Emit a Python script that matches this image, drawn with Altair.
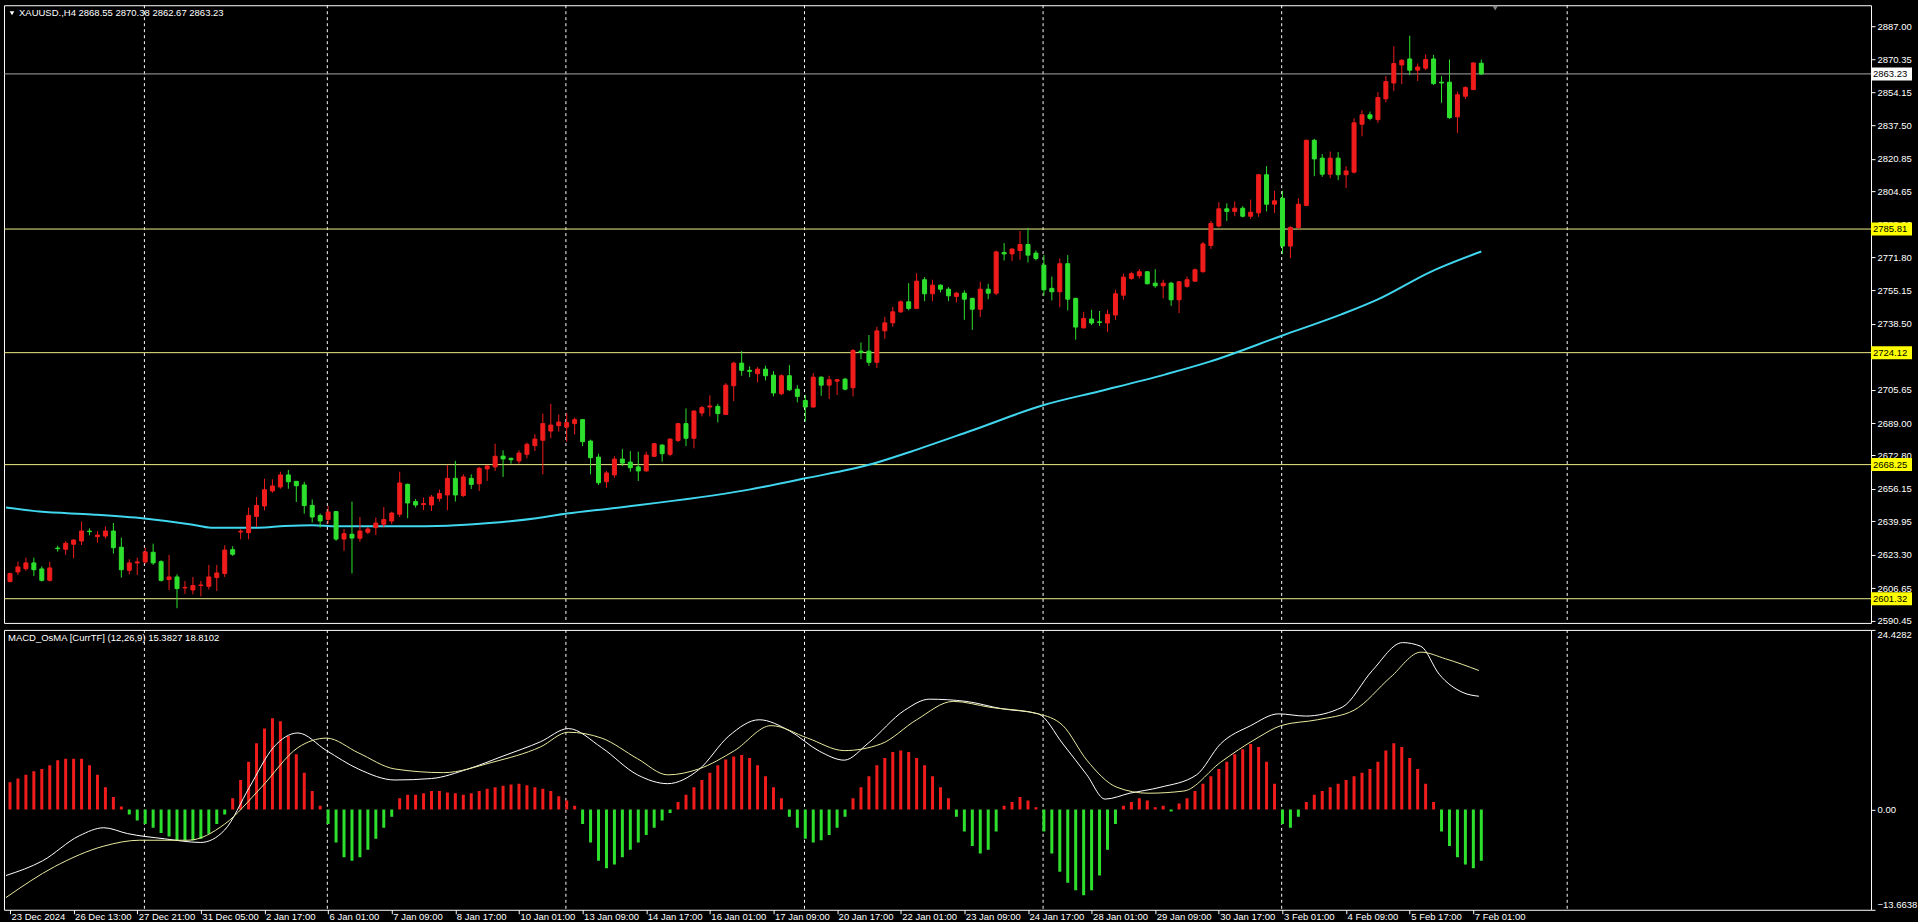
import altair as alt
import pandas as pd

# ---------------- data ----------------
opens = [2609.9, 2614.7, 2616.3, 2619.2, 2616.2, 2610.5, 2626.6, 2626.0, 2628.5, 2630.1,
         2635.1, 2632.3, 2632.6, 2635.1, 2627.0, 2615.5, 2619.2, 2619.7, 2624.5, 2619.8,
         2610.9, 2612.2, 2606.7, 2605.7, 2607.9, 2607.5, 2611.9, 2613.9, 2625.8, 2634.6,
         2634.3, 2642.4, 2647.6, 2655.1, 2657.1, 2663.1, 2659.9, 2658.1, 2647.9, 2642.8,
         2640.9, 2644.8, 2631.1, 2633.5, 2631.5, 2634.5, 2636.8, 2638.5, 2640.1, 2643.5,
         2658.4, 2649.8, 2648.3, 2648.1, 2651.4, 2653.1, 2661.4, 2652.8, 2661.4, 2658.7,
         2666.1, 2667.1, 2672.5, 2671.4, 2670.1, 2673.4, 2677.7, 2680.4, 2685.0, 2687.7,
         2687.0, 2688.7, 2690.7, 2680.0, 2672.0, 2659.7, 2663.1, 2671.0, 2669.5, 2667.1,
         2665.1, 2672.4, 2678.0, 2673.4, 2680.3, 2688.7, 2681.4, 2694.0, 2697.0, 2697.3,
         2693.3, 2707.6, 2718.9, 2715.3, 2713.6, 2715.9, 2712.9, 2703.6, 2712.6, 2705.9,
         2700.3, 2697.0, 2711.9, 2707.9, 2709.9, 2710.9, 2706.6, 2724.9, 2724.9, 2719.3,
         2735.0, 2739.0, 2744.5, 2749.5, 2746.2, 2760.5, 2753.5, 2757.8, 2755.8, 2752.2,
         2753.8, 2751.2, 2745.8, 2755.8, 2753.8, 2774.1, 2773.4, 2775.1, 2778.1, 2773.8,
         2767.8, 2756.2, 2754.5, 2768.5, 2751.2, 2736.5, 2740.9, 2739.5, 2738.9, 2742.9,
         2752.8, 2761.1, 2762.5, 2764.5, 2758.8, 2757.5, 2758.8, 2750.5, 2757.2, 2759.8,
         2764.5, 2777.6, 2787.3, 2795.9, 2794.6, 2796.2, 2792.2, 2793.9, 2812.9, 2798.2,
         2801.2, 2777.3, 2786.6, 2797.6, 2830.1, 2821.2, 2813.2, 2821.2, 2812.9, 2814.2,
         2838.1, 2842.8, 2840.4, 2850.8, 2858.7, 2867.7, 2870.7, 2865.1, 2866.1, 2870.7,
         2859.1, 2859.1, 2841.8, 2852.1, 2855.4, 2868.55]
highs = [2614.3, 2619.8, 2621.8, 2621.8, 2617.5, 2619.8, 2627.8, 2630.1, 2631.1, 2639.8,
         2636.4, 2635.1, 2637.4, 2639.1, 2631.8, 2621.0, 2621.8, 2626.8, 2628.8, 2620.5,
         2623.2, 2613.5, 2610.2, 2612.2, 2610.2, 2618.2, 2618.2, 2628.0, 2627.5, 2636.0,
         2646.8, 2652.1, 2661.2, 2660.9, 2664.7, 2665.6, 2660.1, 2659.7, 2650.9, 2643.8,
         2647.6, 2645.1, 2636.1, 2649.8, 2642.1, 2637.1, 2641.8, 2647.1, 2644.8, 2664.7,
         2658.8, 2651.1, 2651.8, 2653.1, 2655.8, 2668.1, 2670.1, 2663.4, 2663.4, 2667.1,
         2668.1, 2678.7, 2675.4, 2671.7, 2675.4, 2679.2, 2683.4, 2693.7, 2698.6, 2693.3,
         2694.0, 2691.7, 2691.0, 2680.7, 2673.7, 2665.1, 2672.4, 2676.0, 2675.0, 2674.7,
         2674.7, 2679.1, 2678.4, 2681.4, 2689.0, 2696.3, 2695.3, 2697.6, 2702.8, 2698.6,
         2708.9, 2719.6, 2724.9, 2717.3, 2716.9, 2717.6, 2714.9, 2713.3, 2717.9, 2707.9,
         2703.0, 2713.9, 2712.3, 2712.6, 2710.9, 2711.6, 2725.9, 2729.2, 2732.9, 2737.0,
         2742.0, 2747.0, 2750.2, 2758.8, 2763.8, 2761.8, 2760.5, 2758.2, 2756.8, 2754.5,
         2755.2, 2751.5, 2759.5, 2758.5, 2775.1, 2778.8, 2776.4, 2784.8, 2786.4, 2775.1,
         2772.8, 2762.1, 2771.1, 2772.8, 2751.5, 2744.5, 2745.5, 2744.9, 2745.5, 2755.5,
         2763.5, 2764.5, 2765.8, 2764.8, 2765.8, 2760.5, 2759.5, 2759.8, 2762.1, 2766.1,
         2779.4, 2789.9, 2799.2, 2798.6, 2799.6, 2797.2, 2800.5, 2813.2, 2817.2, 2804.9,
         2804.9, 2787.2, 2801.2, 2830.5, 2830.8, 2823.2, 2824.5, 2824.2, 2817.2, 2841.1,
         2845.1, 2844.4, 2854.1, 2862.1, 2877.0, 2870.7, 2882.3, 2868.4, 2873.0, 2872.7,
         2862.1, 2870.4, 2854.4, 2857.1, 2869.0, 2870.38]
lows = [2609.4, 2613.2, 2615.2, 2612.7, 2609.9, 2609.9, 2624.8, 2623.2, 2621.5, 2628.1,
        2633.0, 2629.3, 2631.3, 2623.8, 2611.9, 2613.5, 2613.2, 2618.8, 2618.2, 2609.9,
        2605.7, 2596.6, 2603.7, 2603.5, 2602.5, 2605.9, 2605.2, 2612.2, 2622.7, 2631.0,
        2631.0, 2637.1, 2645.4, 2654.2, 2656.2, 2656.2, 2649.6, 2643.8, 2639.3, 2636.8,
        2638.8, 2630.2, 2625.2, 2613.9, 2629.8, 2633.5, 2633.1, 2636.8, 2638.5, 2642.1,
        2641.5, 2646.8, 2645.5, 2645.1, 2649.8, 2645.5, 2649.8, 2652.1, 2656.1, 2655.1,
        2660.1, 2665.1, 2662.1, 2668.7, 2668.7, 2671.4, 2675.0, 2663.4, 2681.4, 2684.7,
        2679.7, 2683.3, 2677.5, 2663.4, 2658.1, 2656.7, 2661.7, 2667.5, 2664.7, 2660.1,
        2664.7, 2672.0, 2669.7, 2672.4, 2679.4, 2677.5, 2676.4, 2692.3, 2692.3, 2689.3,
        2693.0, 2700.0, 2712.6, 2711.9, 2709.3, 2710.3, 2702.3, 2703.0, 2705.0, 2699.3,
        2689.7, 2696.6, 2702.6, 2701.0, 2703.0, 2705.3, 2702.3, 2720.9, 2717.6, 2716.5,
        2731.0, 2737.0, 2743.9, 2745.2, 2745.8, 2749.8, 2749.8, 2754.2, 2749.8, 2749.2,
        2740.5, 2735.5, 2741.9, 2750.8, 2752.8, 2770.1, 2769.8, 2770.5, 2769.1, 2770.1,
        2752.5, 2750.2, 2746.8, 2745.2, 2730.6, 2736.2, 2737.9, 2737.5, 2734.5, 2740.5,
        2750.5, 2760.5, 2761.1, 2758.2, 2756.5, 2751.2, 2747.5, 2743.9, 2756.5, 2759.5,
        2764.1, 2775.9, 2786.6, 2789.9, 2792.2, 2791.6, 2790.9, 2791.9, 2794.6, 2793.9,
        2773.3, 2771.3, 2785.6, 2797.2, 2812.2, 2811.9, 2811.2, 2810.2, 2806.2, 2813.5,
        2832.1, 2840.1, 2838.8, 2849.1, 2854.7, 2858.1, 2862.7, 2859.7, 2865.1, 2857.7,
        2848.8, 2840.8, 2833.8, 2850.8, 2855.1, 2862.67]
closes = [2613.9, 2617.2, 2619.2, 2615.8, 2610.5, 2616.7, 2626.3, 2629.0, 2630.6, 2635.1,
          2634.8, 2633.1, 2635.1, 2626.8, 2615.8, 2619.2, 2619.7, 2624.7, 2619.2, 2610.5,
          2612.2, 2606.4, 2607.0, 2607.9, 2608.2, 2612.2, 2614.2, 2625.6, 2623.5, 2635.0,
          2642.9, 2647.9, 2655.7, 2657.6, 2663.1, 2659.7, 2657.7, 2647.8, 2642.1, 2640.1,
          2644.6, 2631.1, 2633.8, 2631.6, 2635.1, 2636.1, 2639.1, 2640.8, 2644.1, 2659.1,
          2649.1, 2648.1, 2648.8, 2652.1, 2653.8, 2661.4, 2653.1, 2662.1, 2658.4, 2666.4,
          2667.6, 2672.4, 2671.1, 2670.7, 2674.0, 2678.4, 2681.0, 2688.7, 2688.0, 2689.5,
          2689.2, 2690.7, 2679.7, 2671.7, 2659.2, 2664.1, 2671.0, 2669.0, 2666.7, 2665.1,
          2673.0, 2678.7, 2673.7, 2681.0, 2688.7, 2681.4, 2695.0, 2696.7, 2697.5, 2693.7,
          2707.9, 2718.9, 2715.3, 2714.8, 2715.9, 2712.6, 2704.0, 2712.6, 2705.6, 2702.3,
          2697.0, 2711.9, 2707.9, 2710.6, 2710.6, 2705.9, 2725.2, 2724.2, 2719.3, 2735.0,
          2739.0, 2744.5, 2749.5, 2746.2, 2759.8, 2753.5, 2757.8, 2755.8, 2752.5, 2753.8,
          2750.8, 2745.8, 2755.8, 2753.8, 2774.4, 2773.4, 2775.8, 2778.1, 2772.8, 2771.1,
          2755.5, 2754.5, 2768.5, 2750.8, 2736.9, 2741.2, 2738.9, 2739.2, 2743.2, 2753.5,
          2761.8, 2763.5, 2764.5, 2758.5, 2757.5, 2758.8, 2750.5, 2759.5, 2760.5, 2765.5,
          2778.4, 2788.6, 2795.9, 2794.6, 2796.2, 2792.2, 2794.2, 2812.9, 2798.2, 2799.9,
          2777.3, 2786.6, 2798.2, 2830.1, 2820.8, 2813.2, 2821.2, 2812.9, 2814.8, 2838.8,
          2842.8, 2841.1, 2851.4, 2859.4, 2868.4, 2870.0, 2865.1, 2866.7, 2870.4, 2858.4,
          2858.7, 2841.4, 2852.8, 2856.4, 2868.7, 2863.23]

# moving average (cyan) read at these bar positions
ma_bar = [-0.5, 3.7, 10.3, 16.9, 22.8, 25.3, 31.2, 34.5, 38, 41, 49.5, 55, 60.3, 66.2, 70,
          75.75, 92.4, 100, 108.25, 113.25, 120.75, 130, 137, 145.3, 150.75, 160, 167.4,
          172, 178.7, 185]
ma_val = [2646.8, 2644.8, 2643.4, 2641.4, 2638.4, 2636.8, 2636.8, 2637.6, 2638.0, 2637.5,
          2637.5, 2637.8, 2639.1, 2641.5, 2643.8, 2646.5, 2655.4, 2661.4, 2668.4, 2674.7,
          2685.0, 2698.0, 2704.9, 2713.3, 2719.5, 2732.7, 2743.2, 2750.7, 2764.6, 2774.6]

# MACD_OsMA histogram, one value per bar
osma = [3.7, 4.2, 4.7, 5.2, 5.5, 6.0, 6.7, 6.9, 6.9, 6.9, 6.0, 4.7, 3.0, 1.7,
        0.4, -0.7, -1.5, -2.0, -2.5, -3.2, -3.7, -4.2, -4.2, -4.2, -4.0, -3.3, -2.0, -0.7,
        1.5, 4.0, 6.5, 9.0, 11.0, 12.4, 12.0, 10.0, 7.5, 5.0, 2.5, 0.5,
        -2.0, -4.5, -6.5, -7.0, -6.5, -5.5, -4.0, -2.5, -1.0,
        1.5, 2.0, 2.0, 2.2, 2.5, 2.5, 2.3, 2.2, 2.0, 2.2, 2.5, 2.8, 3.0, 3.2, 3.4, 3.5, 3.3,
        3.0, 2.8, 2.5, 1.8, 1.2, 0.5,
        -2.0, -4.5, -7.0, -8.0, -7.5, -6.5, -5.5, -4.5, -3.5, -2.5, -1.5, -0.5,
        1.0, 2.0, 3.0, 4.0, 5.0, 6.0, 6.8, 7.2, 7.4, 7.0, 6.0, 4.5, 3.0, 1.5,
        -1.0, -2.5, -4.0, -4.5, -4.2, -3.5, -2.5, -1.0,
        1.5, 3.0, 4.5, 6.0, 7.0, 7.8, 8.0, 7.8, 7.0, 6.0, 4.5, 3.0, 1.5,
        -1.0, -3.0, -5.0, -6.0, -5.5, -3.0,
        0.5, 1.0, 1.7, 1.2, 0.3,
        -3.0, -6.0, -8.5, -10.0, -11.0, -11.7, -11.0, -9.0, -5.5,
        -2.0, 0.5, 1.0, 1.5, 1.2, 0.3, 0.5, -0.3, 0.8, 1.5,
        2.5, 3.5, 4.5, 5.5, 6.5, 7.5, 8.2, 8.9, 8.5, 6.5, 3.5,
        -2.0, -2.5, -1.0,
        1.0, 2.0, 2.5, 3.0, 3.5, 4.0, 4.5, 5.0, 5.5, 6.5, 8.0, 9.0, 8.5, 7.0, 5.5, 3.5,
        1.0,
        -3.0, -5.0, -6.5, -7.5, -8.0, -7.0]

macd_bar = [-0.5, 4.1, 8.7, 11.8, 14.8, 19.4, 24.0, 27.0, 30.1, 33.1, 36.2, 39.8, 43.8,
            48.4, 53.0, 57.6, 62.1, 66.7, 70.2, 74.4, 78.9, 82.7, 86.6, 90.4, 94.2, 98.0,
            101.8, 104.9, 107.9, 112.5, 115.6, 120.2, 124.7, 129.3, 132.4, 135.4, 137.7,
            140.8, 144.6, 149.2, 152.2, 156.0, 159.5, 162.9, 167.5, 171.3, 175.1, 177.4,
            179.7, 182.7, 184.7]
macd_val = [-9.0, -7.0, -3.6, -2.5, -3.3, -4.0, -4.5, -2.8, 3.0, 8.4, 10.4, 8.0, 5.5,
            4.0, 4.2, 5.5, 7.3, 9.2, 11.0, 8.4, 4.7, 3.5, 5.4, 10.0, 12.2, 10.7,
            7.9, 6.7, 9.0, 13.5, 15.0, 14.7, 13.7, 13.0, 8.9, 4.7, 1.4,
            2.2, 3.0, 4.7, 8.9, 11.4, 13.0, 12.7, 13.9, 18.9, 22.7, 22.2,
            18.4, 15.9, 15.4]
sig_bar = [-0.5, 5.6, 11.8, 16.3, 22.4, 27.0, 31.6, 36.2, 39.8, 43.8, 48.4, 54.5, 60.6,
           66.7, 70.2, 74.4, 78.9, 82.7, 86.6, 91.1, 95.7, 100.3, 104.9, 109.5, 114.0,
           118.6, 123.2, 129.3, 132.4, 135.4, 139.2, 143.1, 147.6, 152.2, 156.8, 159.8,
           164.4, 169.0, 173.6, 177.4, 180.5, 184.7]
sig_val = [-12.0, -7.8, -5.0, -4.2, -4.2, -2.0, 3.0, 8.4, 9.7, 7.7, 5.5, 5.0, 6.4,
           8.5, 10.5, 9.7, 6.9, 4.7, 5.5, 8.0, 11.4, 9.7, 8.0, 8.9, 12.2,
           14.7, 13.9, 13.0, 11.4, 6.7, 3.0, 2.2, 2.5, 6.4, 9.7, 11.4,
           12.2, 13.5, 18.0, 21.4, 20.5, 18.9]

levels = [2785.81, 2724.12, 2668.25, 2601.32]
bid = [2863.23]
y_ticks = [2887.00, 2870.35, 2854.15, 2837.50, 2820.85, 2804.65, 2788.00, 2771.80,
           2755.15, 2738.50, 2722.50, 2705.65, 2689.00, 2672.80, 2656.15, 2639.95,
           2623.30, 2606.65, 2590.45]
m_ticks = [-13.6638, 0.0, 24.4282]
x_labels = ["23 Dec 2024", "26 Dec 13:00", "27 Dec 21:00", "31 Dec 05:00", "2 Jan 17:00",
            "6 Jan 01:00", "7 Jan 09:00", "8 Jan 17:00", "10 Jan 01:00", "13 Jan 09:00",
            "14 Jan 17:00", "16 Jan 01:00", "17 Jan 09:00", "20 Jan 17:00", "22 Jan 01:00",
            "23 Jan 09:00", "24 Jan 17:00", "28 Jan 01:00", "29 Jan 09:00", "30 Jan 17:00",
            "3 Feb 01:00", "4 Feb 09:00", "5 Feb 17:00", "7 Feb 01:00"]
x_label_bars = list(range(0, 185, 8))
grid_bars = [16.9, 39.9, 69.9, 99.9, 129.9, 159.9, 195.8]
header = ["XAUUSD.,H4  2868.55 2870.38 2862.67 2863.23"]
macd_header = ["MACD_OsMA [CurrTF] (12,26,9) 15.3827 18.8102"]

# ---------------- styling ----------------
FONT = "Liberation Sans"
FS = 9.5
RED = "#f01c1c"
GREEN = "#2ee02e"
CYAN = "#3fd6ee"
YEL = "#eeee8a"
W = 1868
H1 = 618
H2 = 280
XDOM = [-0.125, 233.375]
BOX = "M-1,-0.317L1,-0.317L1,0.317L-1,0.317Z"

n = len(opens)
cd = pd.DataFrame({"i": list(range(n)), "open": opens, "high": highs,
                   "low": lows, "close": closes})
cd["top"] = cd[["open", "close"]].max(axis=1)
cd["bot"] = cd[["open", "close"]].min(axis=1)
cd["dir"] = ["up" if c >= o else "down" for o, c in zip(opens, closes)]

xs = alt.Scale(domain=XDOM, nice=False, zero=False)
ys = alt.Scale(domain=[2589.25, 2897.5], nice=False, zero=False)
ms = alt.Scale(domain=[-13.6638, 24.4282], nice=False, zero=False)
cscale = alt.Scale(domain=["up", "down"], range=[RED, GREEN])

X = alt.X("i:Q", scale=xs, axis=None)

yaxis = alt.Axis(orient="right", values=y_ticks, format=".2f", labelOverlap=False,
                 grid=False, domain=False, tickColor="white", tickSize=4,
                 labelColor="white", labelFont=FONT, labelFontSize=FS, labelPadding=2,
                 title=None)

wicks = alt.Chart(cd).mark_rule(strokeWidth=1, clip=True).encode(
    x=X, y=alt.Y("low:Q", scale=ys, axis=yaxis), y2="high:Q",
    color=alt.Color("dir:N", scale=cscale, legend=None))
bodies = alt.Chart(cd).mark_bar(size=4, strokeWidth=1, clip=True).encode(
    x=X, y=alt.Y("bot:Q", scale=ys, axis=yaxis), y2="top:Q",
    color=alt.Color("dir:N", scale=cscale, legend=None),
    stroke=alt.Stroke("dir:N", scale=cscale, legend=None))

ma = alt.Chart(pd.DataFrame({"i": ma_bar, "v": ma_val})).mark_line(
    color=CYAN, strokeWidth=2, clip=True, interpolate="monotone").encode(
    x=X, y=alt.Y("v:Q", scale=ys, axis=yaxis))

vgrid_df = pd.DataFrame({"i": grid_bars})
vgrid = alt.Chart(vgrid_df).mark_rule(color="white", strokeDash=[3, 3], strokeWidth=1,
                                      clip=True).encode(x=X)

lv = pd.DataFrame({"p": levels})
lv_rule = alt.Chart(lv).mark_rule(color=YEL, strokeWidth=1).encode(
    y=alt.Y("p:Q", scale=ys, axis=yaxis))
lv_box = alt.Chart(lv).mark_point(shape=BOX, filled=True, size=41 * 41, color="#ffff00",
                                  opacity=1, strokeWidth=0).encode(
    x=alt.value(W + 20.5), y=alt.Y("p:Q", scale=ys, axis=yaxis))
lv_txt = alt.Chart(lv).mark_text(align="left", baseline="middle", font=FONT, fontSize=FS,
                                 color="black").encode(
    x=alt.value(W + 2), y=alt.Y("p:Q", scale=ys, axis=yaxis),
    text=alt.Text("p:Q", format=".2f"))

bd = pd.DataFrame({"p": bid})
bid_rule = alt.Chart(bd).mark_rule(color="#a8a8a8", strokeWidth=1).encode(
    y=alt.Y("p:Q", scale=ys, axis=yaxis))
bid_box = alt.Chart(bd).mark_point(shape=BOX, filled=True, size=41 * 41, color="white",
                                   opacity=1, strokeWidth=0).encode(
    x=alt.value(W + 20.5), y=alt.Y("p:Q", scale=ys, axis=yaxis))
bid_txt = alt.Chart(bd).mark_text(align="left", baseline="middle", font=FONT, fontSize=FS,
                                  color="black").encode(
    x=alt.value(W + 2), y=alt.Y("p:Q", scale=ys, axis=yaxis),
    text=alt.Text("p:Q", format=".2f"))

hdr = alt.Chart(pd.DataFrame({"t": header})).mark_text(
    align="left", baseline="middle", font=FONT, fontSize=FS, color="white").encode(
    x=alt.value(15), y=alt.value(8), text="t:N")
tri = alt.Chart(pd.DataFrame({"t": header})).mark_point(
    shape="triangle-down", filled=True, size=22, color="white", opacity=1).encode(
    x=alt.value(8), y=alt.value(8))
shift_mark = alt.Chart(pd.DataFrame({"t": header})).mark_point(
    shape="triangle-down", filled=True, size=30, color="#808080", opacity=1).encode(
    x=alt.value(1492), y=alt.value(3))

main = alt.layer(vgrid, lv_rule, bid_rule, ma, wicks, bodies, lv_box, lv_txt, bid_box,
                 bid_txt, hdr, tri, shift_mark).properties(width=W, height=H1)

# ---------------- MACD panel ----------------
label_arr = "[" + ",".join("'" + s + "'" for s in x_labels) + "]"
xaxis = alt.Axis(values=x_label_bars, labelExpr=label_arr + "[round(datum.value/8)]",
                 labelAlign="left", labelOffset=1, labelColor="white", tickColor="white",
                 tickSize=4, domain=False, grid=False, labelFont=FONT, labelFontSize=FS,
                 labelPadding=-2, labelOverlap=False, labelFlush=False, title=None)
XM = alt.X("i:Q", scale=xs, axis=xaxis)

maxis = alt.Axis(orient="right", values=m_ticks,
                 labelExpr="datum.value == 0 ? '0.00' : format(datum.value, '.4f')",
                 labelFlush=True, labelOverlap=False, grid=False, domain=False,
                 tickColor="white", tickSize=4, labelColor="white", labelFont=FONT,
                 labelFontSize=FS, labelPadding=2, title=None)

hd = pd.DataFrame({"i": list(range(n)), "v": osma})
hd["dir"] = ["up" if v >= 0 else "down" for v in osma]
hist = alt.Chart(hd).mark_bar(size=3, clip=True).encode(
    x=XM, y=alt.Y("v:Q", scale=ms, axis=maxis), y2=alt.datum(0),
    color=alt.Color("dir:N", scale=cscale, legend=None))
macd_line = alt.Chart(pd.DataFrame({"i": macd_bar, "v": macd_val})).mark_line(
    color="white", strokeWidth=1, clip=True, interpolate="monotone").encode(
    x=XM, y=alt.Y("v:Q", scale=ms, axis=maxis))
sig_line = alt.Chart(pd.DataFrame({"i": sig_bar, "v": sig_val})).mark_line(
    color="#eaeaa0", strokeWidth=1, clip=True, interpolate="monotone").encode(
    x=XM, y=alt.Y("v:Q", scale=ms, axis=maxis))
vgrid2 = alt.Chart(vgrid_df).mark_rule(color="white", strokeDash=[3, 3], strokeWidth=1,
                                       clip=True).encode(x=XM)
mhdr = alt.Chart(pd.DataFrame({"t": macd_header})).mark_text(
    align="left", baseline="middle", font=FONT, fontSize=FS, color="white").encode(
    x=alt.value(4), y=alt.value(8), text="t:N")

macd = alt.layer(vgrid2, hist, macd_line, sig_line, mhdr).properties(width=W, height=H2)

chart = alt.vconcat(main, macd, spacing=3).properties(
    background="black",
    padding={"left": 3, "top": 4, "right": 0, "bottom": 0},
).configure_view(stroke="white", strokeWidth=1).configure_axis(labelOverlap=False)

chart.save("out.html", embed_options={"renderer": "svg", "actions": False})
